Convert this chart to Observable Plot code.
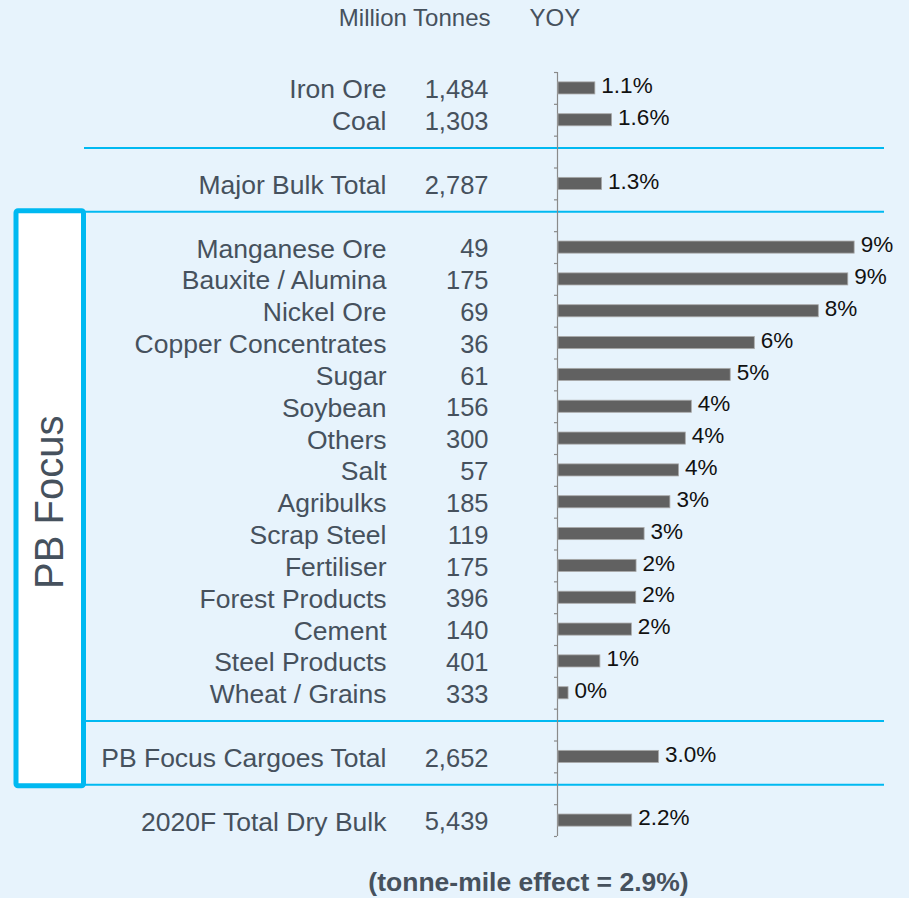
<!DOCTYPE html>
<html>
<head>
<meta charset="utf-8">
<script src="https://cdn.jsdelivr.net/npm/d3@7"></script>
<script src="https://cdn.jsdelivr.net/npm/@observablehq/plot@0.6"></script>
<style>
  html, body { margin: 0; padding: 0; background: #e7f3fc; }
  #chart svg { display: block; }
</style>
</head>
<body>
<div id="chart"></div>
<script>
// ---- data ----
const categories = ["Iron Ore", "Coal", "Major Bulk Total", "Manganese Ore", "Bauxite / Alumina", "Nickel Ore",
  "Copper Concentrates", "Sugar", "Soybean", "Others", "Salt", "Agribulks", "Scrap Steel", "Fertiliser",
  "Forest Products", "Cement", "Steel Products", "Wheat / Grains", "PB Focus Cargoes Total", "2020F Total Dry Bulk"];
const tonnes = [1484, 1303, 2787, 49, 175, 69, 36, 61, 156, 300, 57, 185, 119, 175, 396, 140, 401, 333, 2652, 5439];
const yoy = [1.1, 1.6, 1.3, 8.84, 8.65, 7.77, 5.86, 5.14, 3.98, 3.8, 3.6, 3.34, 2.57, 2.33, 2.32, 2.19, 1.25, 0.3, 3.0, 2.2];
const yoyLabels = ["1.1%", "1.6%", "1.3%", "9%", "9%", "8%", "6%", "5%", "4%", "4%", "4%", "3%", "3%", "2%", "2%", "2%", "1%", "0%", "3.0%", "2.2%"];
const gapsAfter = ["Coal", "Major Bulk Total", "Wheat / Grains", "PB Focus Cargoes Total"];
const headers = ["Million Tonnes", "YOY"];
const focusLabel = "PB Focus";
const footnote = "(tonne-mile effect = 2.9%)";

// ---- build rows / slots ----
const rows = categories.map((c, i) => ({cat: c, tonnes: tonnes[i], yoy: yoy[i], label: yoyLabels[i]}));
const slots = [];
const gaps = [];
categories.forEach((c) => {
  slots.push(c);
  if (gapsAfter.includes(c)) { const g = "gap-" + gaps.length; gaps.push(g); slots.push(g); }
});

const W = 909, H = 898, MT = 72, MB = 62, ML = 557, MR = 17;
const step = (H - MT - MB) / slots.length;
const textColor = "#46515d";
const cyan = "#00b9f1";
const font = "'Liberation Sans', Arial, sans-serif";

const plot = Plot.plot({
  width: W, height: H,
  marginTop: MT, marginBottom: MB, marginLeft: ML, marginRight: MR,
  style: {background: "transparent", fontFamily: font},
  x: {domain: [0, 10], axis: null},
  y: {domain: slots, axis: null, paddingInner: 0.62, paddingOuter: 0.31, round: false},
  marks: [
    // separators
    Plot.ruleY(gaps, {y: d => d, stroke: cyan, strokeWidth: 2, dy: -4, insetLeft: -(ML - 84), insetRight: W - MR - 884}),
    // axis line and ticks
    Plot.ruleX([0], {stroke: "#8a8a8a", strokeWidth: 1.2}),
    Plot.ruleY(slots, {y: d => d, x1: -0.09, x2: 0, dy: -step / 2, stroke: "#8a8a8a", strokeWidth: 1.2}),
    Plot.ruleY([slots[slots.length - 1]], {y: d => d, x1: -0.09, x2: 0, dy: step / 2, stroke: "#8a8a8a", strokeWidth: 1.2}),
    // bars
    Plot.barX(rows, {y: "cat", x: "yoy", fill: "#616161", stroke: "#a9a9a9", strokeWidth: 0.8, dx: 1}),
    // percent labels
    Plot.text(rows, {y: "cat", x: "yoy", text: "label", textAnchor: "start", dx: 7, dy: -2.5, fontSize: 22.5, fill: "#111"}),
    // category labels
    Plot.text(rows, {y: "cat", x: () => 0, text: "cat", textAnchor: "end", dx: 386 - ML, dy: 1.5, fontSize: 26.5, fill: textColor}),
    // tonnes
    Plot.text(rows, {y: "cat", x: () => 0, text: d => d3.format(",")(d.tonnes), textAnchor: "end", dx: 488 - ML, dy: 1.5, fontSize: 25.5, fill: textColor}),
    // headers
    Plot.text([headers[0]], {frameAnchor: "top-left", lineAnchor: "middle", text: d => d, textAnchor: "end", dx: 490 - ML, dy: 18 - MT, fontSize: 24, fill: textColor}),
    Plot.text([headers[1]], {frameAnchor: "top-left", lineAnchor: "middle", text: d => d, textAnchor: "start", dx: 529 - ML, dy: 18 - MT, fontSize: 24, fill: textColor}),
    // footnote
    Plot.text([footnote], {frameAnchor: "bottom-left", lineAnchor: "middle", text: d => d, textAnchor: "middle", dx: 528 - ML, dy: 882 - (H - MB), fontSize: 26.5, fontWeight: "bold", fill: textColor})
  ]
});

document.getElementById("chart").appendChild(plot);

// PB Focus box (decoration tied to the y scale)
const yScale = plot.scale("y");
const bandCenter = (v) => yScale.apply(v) + yScale.bandwidth / 2;
const boxTop = bandCenter(gaps[1]) - 7;
const boxBottom = bandCenter(gaps[3]);
const svgSel = d3.select(plot);
svgSel.append("rect")
  .attr("x", 16).attr("y", boxTop + 2.5)
  .attr("width", 67.5).attr("height", boxBottom - boxTop - 5)
  .attr("rx", 2)
  .attr("fill", "#ffffff").attr("stroke", cyan).attr("stroke-width", 5);
svgSel.append("text")
  .attr("transform", `translate(49,${(boxTop + boxBottom) / 2 + 4}) rotate(-90)`)
  .attr("text-anchor", "middle").attr("dominant-baseline", "central")
  .attr("font-family", font).attr("font-size", 40).attr("fill", textColor)
  .text(focusLabel);
</script>
</body>
</html>
